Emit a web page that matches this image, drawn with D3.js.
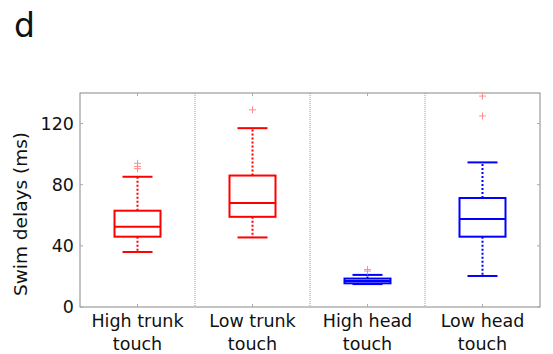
<!DOCTYPE html>
<html>
<head>
<meta charset="utf-8">
<script src="https://cdn.jsdelivr.net/npm/d3@7"></script>
<style>
  body { margin: 0; background: #fff; }
  text { font-family: "DejaVu Sans", sans-serif; fill: #111; }
</style>
</head>
<body>
<div id="chart"></div>
<script>
// box stats
const groups = ['High trunk touch', 'Low trunk touch', 'High head touch', 'Low head touch'];
const labelLines = [['High trunk', 'touch'], ['Low trunk', 'touch'], ['High head', 'touch'], ['Low head', 'touch']];
const colors = ['#ff0000', '#ff0000', '#0000ff', '#0000ff'];
const whiskerLow = [36, 45.5, 15, 20.3];
const q1 = [46, 59, 15.5, 46];
const median = [52.5, 68, 17, 57.5];
const q3 = [63, 86, 18.6, 71.3];
const whiskerHigh = [85.2, 117, 21, 94.6];
const outliers = [[90.5, 92, 94], [129], [23.5, 24.5], [125, 138]];
const yTicks = [0, 40, 80, 120];

const width = 553, height = 354;
const margin = { top: 93, right: 13, bottom: 47, left: 80 };

const svg = d3.select('#chart').append('svg')
    .attr('width', width)
    .attr('height', height);

const x = d3.scaleBand().domain(groups).range([margin.left, width - margin.right]);
const y = d3.scaleLinear().domain([0, 140]).range([height - margin.bottom, margin.top]);

const boxW = 46, capW = 30;

// panel label
svg.append('text')
    .attr('x', 14)
    .attr('y', 37)
    .style('font-size', '33px')
    .text('d');

// dividers between groups
svg.selectAll('.divider')
    .data(groups.slice(1))
    .enter()
    .append('line')
    .attr('x1', (d) => x(d))
    .attr('x2', (d) => x(d))
    .attr('y1', y(140))
    .attr('y2', y(0))
    .attr('stroke', '#999')
    .attr('stroke-width', 1)
    .attr('stroke-dasharray', '1,1');

// frame
svg.append('rect')
    .attr('x', margin.left)
    .attr('y', margin.top)
    .attr('width', width - margin.left - margin.right)
    .attr('height', height - margin.top - margin.bottom)
    .attr('fill', 'none')
    .attr('stroke', '#888')
    .attr('stroke-width', 1);

// y axis labels + inward ticks on both sides
const yAxis = svg.append('g')
    .attr('transform', `translate(${margin.left}, 0)`)
    .call(d3.axisLeft(y).tickValues(yTicks).tickSize(0).tickPadding(6));
yAxis.select('.domain').remove();
yAxis.selectAll('text').style('font-size', '17.5px').style('font-family', '"DejaVu Sans", sans-serif').attr('fill', '#111');

svg.selectAll('.ytickL')
    .data(yTicks)
    .enter()
    .append('line')
    .attr('x1', margin.left)
    .attr('x2', margin.left + 3)
    .attr('y1', (d) => y(d))
    .attr('y2', (d) => y(d))
    .attr('stroke', '#aaa');
svg.selectAll('.ytickR')
    .data(yTicks)
    .enter()
    .append('line')
    .attr('x1', width - margin.right)
    .attr('x2', width - margin.right - 3)
    .attr('y1', (d) => y(d))
    .attr('y2', (d) => y(d))
    .attr('stroke', '#aaa');

// x ticks top & bottom
const cx = (i) => x(groups[i]) + x.bandwidth() / 2;
svg.selectAll('.xtickB')
    .data(groups)
    .enter()
    .append('line')
    .attr('x1', (d, i) => cx(i))
    .attr('x2', (d, i) => cx(i))
    .attr('y1', y(0))
    .attr('y2', y(0) - 3)
    .attr('stroke', '#aaa');
svg.selectAll('.xtickT')
    .data(groups)
    .enter()
    .append('line')
    .attr('x1', (d, i) => cx(i))
    .attr('x2', (d, i) => cx(i))
    .attr('y1', y(140))
    .attr('y2', y(140) + 3)
    .attr('stroke', '#aaa');

// y title
svg.append('text')
    .attr('transform', `translate(27, 214) rotate(-90)`)
    .style('text-anchor', 'middle')
    .style('font-size', '18.5px')
    .text('Swim delays (ms)');

// x labels
labelLines.forEach((lines, i) => {
    const t = svg.append('text')
        .attr('x', cx(i))
        .attr('y', 327)
        .style('text-anchor', 'middle')
        .style('font-size', '17.5px');
    lines.forEach((l, j) => {
        t.append('tspan').attr('x', cx(i)).attr('dy', j === 0 ? 0 : 23).text(l);
    });
});

// boxes
groups.forEach((g, i) => {
    const c = cx(i);
    const col = colors[i];
    const gg = svg.append('g');
    // whiskers (dotted)
    gg.append('line')
        .attr('x1', c).attr('x2', c)
        .attr('y1', y(q3[i])).attr('y2', y(whiskerHigh[i]))
        .attr('stroke', col).attr('stroke-width', 2).attr('stroke-dasharray', '2,2');
    gg.append('line')
        .attr('x1', c).attr('x2', c)
        .attr('y1', y(q1[i])).attr('y2', y(whiskerLow[i]))
        .attr('stroke', col).attr('stroke-width', 2).attr('stroke-dasharray', '2,2');
    // caps
    [whiskerLow[i], whiskerHigh[i]].forEach((v) => {
        gg.append('line')
            .attr('x1', c - capW / 2).attr('x2', c + capW / 2)
            .attr('y1', y(v)).attr('y2', y(v))
            .attr('stroke', col).attr('stroke-width', 2);
    });
    // box
    gg.append('rect')
        .attr('x', c - boxW / 2)
        .attr('y', y(q3[i]))
        .attr('width', boxW)
        .attr('height', y(q1[i]) - y(q3[i]))
        .attr('fill', 'none')
        .attr('stroke', col)
        .attr('stroke-width', 2);
    gg.append('line')
        .attr('x1', c - boxW / 2).attr('x2', c + boxW / 2)
        .attr('y1', y(median[i])).attr('y2', y(median[i]))
        .attr('stroke', col).attr('stroke-width', 2);
    // outliers
    outliers[i].forEach((v) => {
        gg.append('path')
            .attr('d', `M${c - 3.5},${y(v)}h7M${c},${y(v) - 3.5}v7`)
            .attr('stroke', '#ff8c8c')
            .attr('stroke-width', 1);
    });
});
</script>
</body>
</html>
